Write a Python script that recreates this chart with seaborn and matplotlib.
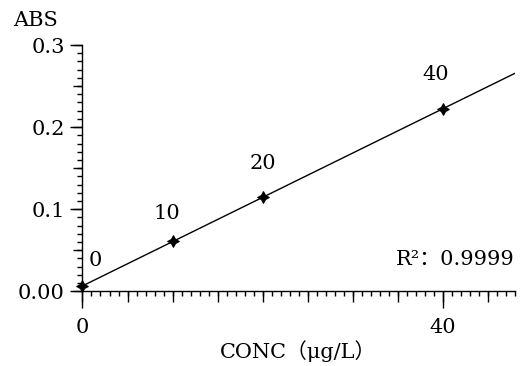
import numpy as np
import pandas as pd
import matplotlib
matplotlib.use("Agg")
import matplotlib.pyplot as plt
import seaborn as sns
from matplotlib.ticker import MultipleLocator, FixedLocator

conc = [0, 10, 20, 40]
absorb = [0.006, 0.061, 0.115, 0.222]
point_labels = ["0", "10", "20", "40"]
label_offsets = [(9, 12), (-4, 13), (0, 17), (-5, 18)]
r2_text = "R\u00b2\uff1a0.9999"
xlabel = "CONC\uff08\u03bcg/L\uff09"
ylabel = "ABS"
xtick_vals = [0, 40]
ytick_vals = [0.0, 0.1, 0.2, 0.3]
ytick_labels = ["0.00", "0.1", "0.2", "0.3"]

FS = 15

sns.set_theme(style="ticks")
plt.rcParams['font.family'] = ['DejaVu Serif', 'Noto Sans CJK SC']
plt.rcParams['font.size'] = FS

df = pd.DataFrame({"conc": conc, "abs": absorb})
slope, intercept = np.polyfit(conc, absorb, 1)
xfit = np.array([0, 48])
fit = pd.DataFrame({"conc": xfit, "abs": slope * xfit + intercept})

fig = plt.figure(figsize=(5.27, 3.66), dpi=100)
ax = fig.add_axes([0.1565, 0.204, 0.977 - 0.1565, 0.877 - 0.204])

sns.lineplot(data=fit, x="conc", y="abs", ax=ax, color="black", lw=1.0)
sns.scatterplot(data=df, x="conc", y="abs", ax=ax, marker=(4, 1, 0), s=70,
                color="black", edgecolor="black", linewidth=0.8, zorder=5, clip_on=False)

for xv, yv, t, off in zip(conc, absorb, point_labels, label_offsets):
    ax.annotate(t, (xv, yv), xytext=off, textcoords="offset points",
                ha="center", va="bottom", fontsize=FS, color="black")

ax.set_xlim(0, 48)
ax.set_ylim(0, 0.3)
sns.despine(ax=ax)
for s in ["left", "bottom"]:
    ax.spines[s].set_linewidth(1.0)
    ax.spines[s].set_color("black")

ax.xaxis.set_major_locator(FixedLocator(xtick_vals))
ax.set_xticklabels([str(v) for v in xtick_vals])
ax.xaxis.set_minor_locator(MultipleLocator(1))
ax.yaxis.set_major_locator(FixedLocator(ytick_vals))
ax.set_yticklabels(ytick_labels)
ax.yaxis.set_minor_locator(MultipleLocator(0.01))

ax.tick_params(axis="x", which="major", length=12, width=1, pad=7, labelsize=FS, colors="black")
ax.tick_params(axis="x", which="minor", length=3.6, width=1, colors="black")
ax.tick_params(axis="y", which="major", length=8.6, width=1, pad=4, labelsize=FS, colors="black")
ax.tick_params(axis="y", which="minor", length=3.6, width=1, colors="black")

# medium ticks
secx = ax.secondary_xaxis(0)
secx.xaxis.set_major_locator(MultipleLocator(5))
secx.tick_params(length=8, width=1, labelbottom=False, colors="black")
secx.spines["bottom"].set_visible(False)
secy = ax.secondary_yaxis(0)
secy.yaxis.set_major_locator(MultipleLocator(0.05))
secy.tick_params(length=6.5, width=1, labelleft=False, colors="black")
secy.spines["left"].set_visible(False)

ax.set_xlabel("")
ax.set_ylabel("")
fig.text(0.5665, 0.042, xlabel, fontsize=FS, ha="center", va="center", color="black")
fig.text(0.068, 0.943, ylabel, fontsize=FS, ha="center", va="center", color="black")
ax.text(1.0, 0.13, r2_text, transform=ax.transAxes, ha="right", va="center",
        fontsize=FS, color="black")

fig.savefig("out.png", dpi=100)
